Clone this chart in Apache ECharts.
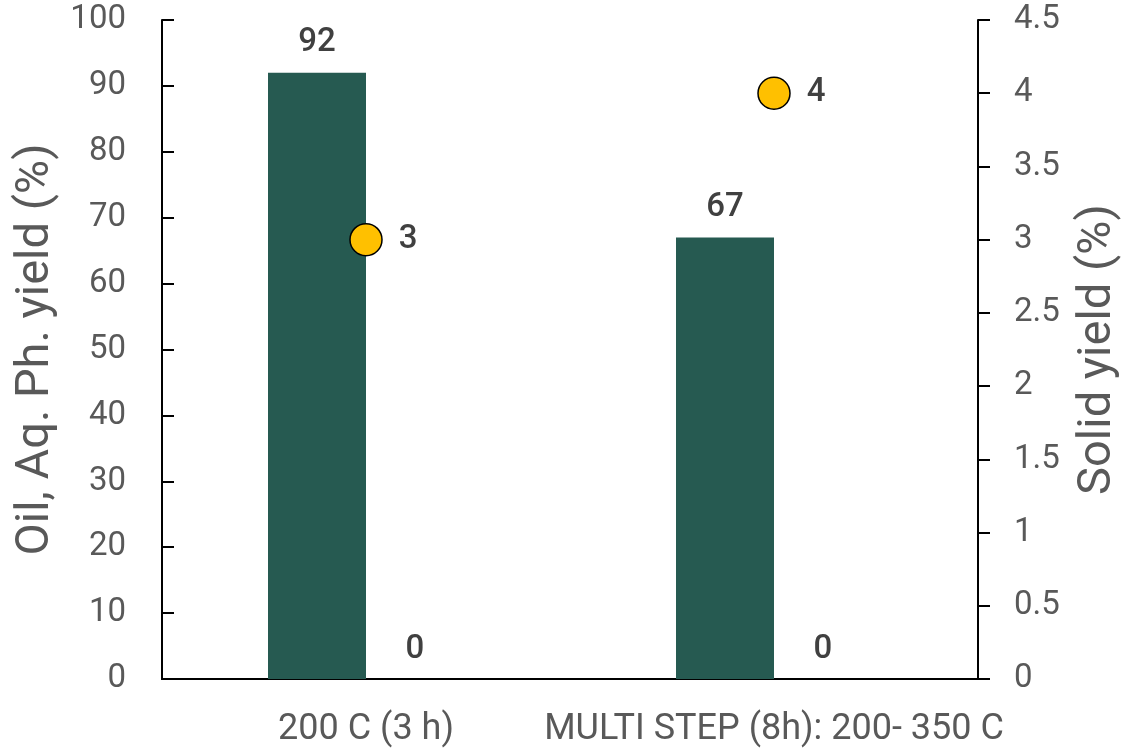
<!DOCTYPE html>
<html>
<head>
<meta charset="utf-8">
<script src="https://cdn.jsdelivr.net/npm/echarts@6/dist/echarts.min.js"></script>
<style>
html,body{margin:0;padding:0;background:#fff;}
#chart{width:1140px;height:748px;}
</style>
</head>
<body>
<div id="chart"></div>
<script>
const categories = ['200 C (3 h)', 'MULTI STEP (8h): 200- 350 C'];
const oilYield = [92, 67];
const aqPhYield = [0, 0];
const solidYield = [3, 4];
const leftTicks = {min: 0, max: 100, interval: 10};
const rightTicks = {min: 0, max: 4.5, interval: 0.5};

const FONT = 'Roboto';
const chart = echarts.init(document.getElementById('chart'));
const labelStyle = {fontFamily: FONT, fontSize: 33, color: '#404040', fontWeight: 500};

chart.setOption({
  animation: false,
  backgroundColor: '#fff',
  grid: {left: 162, right: 162, top: 20, bottom: 68},
  xAxis: [
    {
      type: 'category',
      data: categories,
      position: 'bottom',
      axisTick: {show: false},
      axisLine: {lineStyle: {color: '#000', width: 2}},
      axisLabel: {fontFamily: FONT, fontSize: 36, color: '#595959', margin: 33, interval: 0}
    },
    {
      type: 'category',
      data: categories,
      position: 'top',
      axisTick: {show: false},
      axisLabel: {show: false},
      axisLine: {show: true, lineStyle: {color: '#000', width: 2}}
    }
  ],
  yAxis: [
    {
      type: 'value', min: leftTicks.min, max: leftTicks.max, interval: leftTicks.interval,
      position: 'left',
      name: 'Oil, Aq. Ph. yield (%)', nameLocation: 'middle', nameGap: 92,
      nameTextStyle: {fontFamily: FONT, fontSize: 47, color: '#595959'},
      splitLine: {show: false},
      axisLine: {show: true, lineStyle: {color: '#000', width: 2}},
      axisTick: {show: true, inside: true, length: 12, lineStyle: {color: '#000', width: 2}},
      axisLabel: {fontFamily: FONT, fontSize: 33, color: '#595959', margin: 36}
    },
    {
      type: 'value', min: rightTicks.min, max: rightTicks.max, interval: rightTicks.interval,
      position: 'right',
      name: 'Solid yield (%)', nameLocation: 'middle', nameGap: 97,
      nameTextStyle: {fontFamily: FONT, fontSize: 47, color: '#595959'},
      splitLine: {show: false},
      axisLine: {show: true, lineStyle: {color: '#000', width: 2}},
      axisTick: {show: true, inside: false, length: 12, lineStyle: {color: '#000', width: 2}},
      axisLabel: {fontFamily: FONT, fontSize: 33, color: '#595959', margin: 36}
    }
  ],
  series: [
    {
      name: 'Oil', type: 'bar', data: oilYield, barWidth: 98, barGap: '0%',
      itemStyle: {color: '#265a51'},
      label: Object.assign({show: true, position: 'top', distance: 13}, labelStyle)
    },
    {
      name: 'Aq. Ph.', type: 'bar', data: aqPhYield, barWidth: 98, barGap: '0%',
      itemStyle: {color: '#a5a5a5'},
      label: Object.assign({show: true, position: 'top', distance: 13}, labelStyle)
    },
    {
      name: 'Solid', type: 'scatter', yAxisIndex: 1, data: solidYield,
      symbol: 'circle', symbolSize: 32,
      itemStyle: {color: '#ffc000', borderColor: '#000', borderWidth: 1.5, opacity: 1},
      label: Object.assign({show: true, position: 'right', distance: 16}, labelStyle),
      z: 5
    }
  ]
});
</script>
</body>
</html>
